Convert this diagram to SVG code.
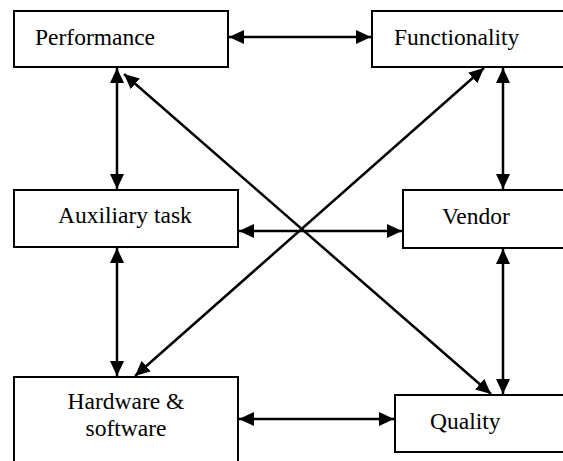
<svg xmlns="http://www.w3.org/2000/svg" width="563" height="461" viewBox="0 0 563 461">
<style>
.box{fill:#fff;stroke:#000;stroke-width:2}
.lbl{font-size:23.5px;fill:#000}
.c{fill:none;stroke:#000;stroke-width:2.5;marker-start:url(#ah);marker-end:url(#ah)}
</style>
<defs>
<marker id="ah" markerUnits="userSpaceOnUse" markerWidth="16" markerHeight="15" refX="15" refY="7" orient="auto-start-reverse">
<path d="M0,0 L15,7 L0,14 z" fill="#000"/>
</marker>
</defs>
<rect width="563" height="461" fill="#fff"/>
<g font-family="'Liberation Serif', 'Times New Roman', 'DejaVu Serif', serif">
<g id="performance"><rect class="box" x="14" y="11" width="214" height="56"/><text class="lbl" x="35" y="45">Performance</text></g>
<g id="functionality"><rect class="box" x="372" y="11" width="200" height="56"/><text class="lbl" x="394" y="45">Functionality</text></g>
<g id="auxiliary"><rect class="box" x="14" y="190" width="224" height="57"/><text class="lbl" x="58" y="223">Auxiliary task</text></g>
<g id="vendor"><rect class="box" x="403" y="190" width="170" height="58"/><text class="lbl" x="442" y="224">Vendor</text></g>
<g id="hardware"><rect class="box" x="14" y="377" width="224" height="100"/><text class="lbl" x="126" y="409" text-anchor="middle">Hardware &amp;</text><text class="lbl" x="126" y="436" text-anchor="middle">software</text></g>
<g id="quality"><rect class="box" x="395" y="395" width="180" height="57"/><text class="lbl" x="430" y="429">Quality</text></g>
</g>
<g id="connectors">
<line class="c" x1="229" y1="37" x2="371" y2="37"/>
<line class="c" x1="117" y1="68" x2="117" y2="189"/>
<line class="c" x1="503" y1="68" x2="503" y2="189"/>
<line class="c" x1="239" y1="231" x2="402" y2="231"/>
<line class="c" x1="117" y1="248" x2="117" y2="376"/>
<line class="c" x1="503" y1="249" x2="503" y2="394"/>
<line class="c" x1="239" y1="419" x2="394" y2="419"/>
<line class="c" x1="124" y1="74" x2="491" y2="394"/>
<line class="c" x1="484" y1="68" x2="135" y2="376"/>
</g>
</svg>
